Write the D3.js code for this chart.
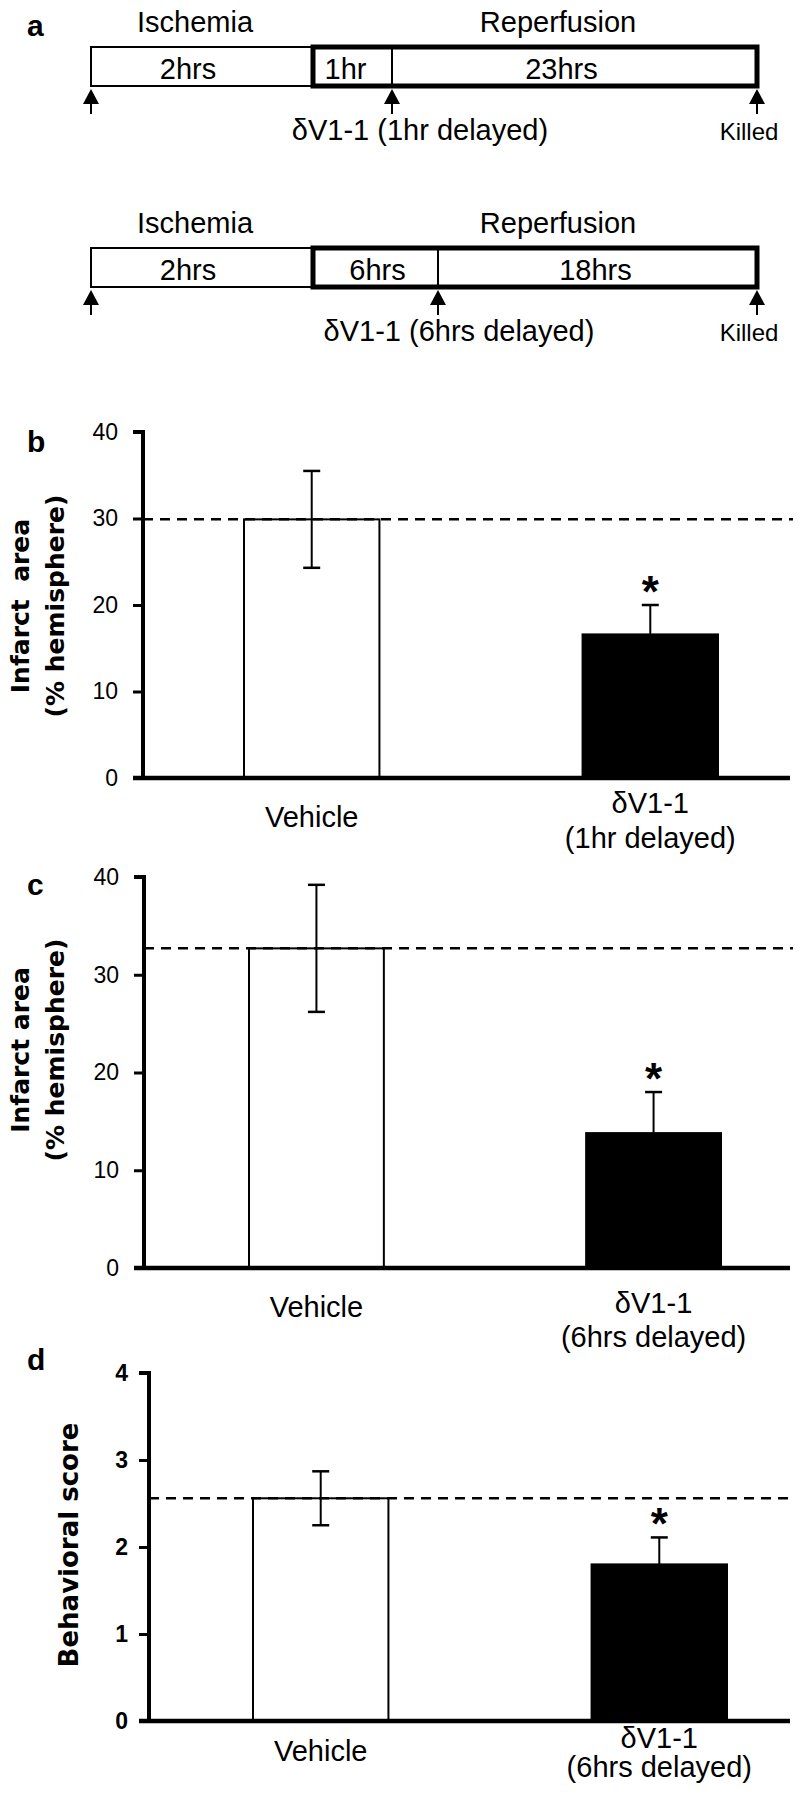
<!DOCTYPE html>
<html><head><meta charset="utf-8">
<script src="https://cdn.jsdelivr.net/npm/d3@7"></script>
<style>
body{margin:0;background:#fff;}
svg{display:block;}
.n{font-family:"Liberation Sans",Arial,Helvetica,sans-serif;}
.bd{font-family:"Liberation Sans",Arial,sans-serif;font-weight:bold;}
.ttl{font-family:"DejaVu Sans",Verdana,sans-serif;font-weight:bold;}
</style></head><body>
<svg id="chart" width="800" height="1800"></svg>
<script>
// ---------- data ----------
const phaseNames = ["Ischemia", "Reperfusion"];
const protocol1Hours = [2, 1, 23];
const protocol1Labels = ["2hrs", "1hr", "23hrs"];
const protocol1Drug = "δV1-1 (1hr delayed)";
const protocol2Hours = [2, 6, 18];
const protocol2Labels = ["2hrs", "6hrs", "18hrs"];
const protocol2Drug = "δV1-1 (6hrs delayed)";
const killedLabel = "Killed";

const groups = ["Vehicle", "δV1-1"];
const subB = "(1hr delayed)";
const subC = "(6hrs delayed)";
const subD = "(6hrs delayed)";
const meansB = [29.9, 16.6];
const errB = [5.6, 3.4];
const meansC = [32.7, 13.8];
const errC = [6.5, 4.2];
const meansD = [2.56, 1.80];
const errD = [0.31, 0.31];
const infarctTicks = [0, 10, 20, 30, 40];
const scoreTicks = [0, 1, 2, 3, 4];
const panelLetters = ["a", "b", "c", "d"];

// ---------- drawing ----------
const svg = d3.select("#chart");
const FS = 29;

function txt(g, x, y, s, size, cls) {
  return g.append("text").attr("class", cls || "n").attr("x", x).attr("y", y)
    .attr("text-anchor", "middle").attr("font-size", size).text(s);
}

function timeline(hours, labels, drug, top, xr, o) {
  const b = [0, hours[0], hours[0] + hours[1], hours[0] + hours[1] + hours[2]];
  const x = d3.scaleLinear().domain(b).range(xr);
  const g = svg.append("g");
  const h = 39;
  txt(g, (x(b[0]) + x(b[1])) / 2 - 7, top - 15, phaseNames[0], FS);
  txt(g, (x(b[1]) + x(b[3])) / 2 + 23, top - 15, phaseNames[1], FS);
  g.append("rect").attr("x", x(b[0])).attr("y", top).attr("width", x(b[1]) - x(b[0])).attr("height", h)
    .attr("fill", "none").attr("stroke", "#000").attr("stroke-width", 2);
  g.append("rect").attr("x", x(b[1])).attr("y", top).attr("width", x(b[3]) - x(b[1])).attr("height", h)
    .attr("fill", "none").attr("stroke", "#000").attr("stroke-width", 5);
  g.append("line").attr("x1", x(b[2])).attr("x2", x(b[2])).attr("y1", top).attr("y2", top + h)
    .attr("stroke", "#000").attr("stroke-width", 2);
  labels.forEach((l, i) => txt(g, (x(b[i]) + x(b[i + 1])) / 2 + o.shift[i], top + 32, l, FS));
  [b[0], b[2], b[3]].forEach(t => {
    const cx = x(t), ty = top + h + 3;
    g.append("path").attr("d", `M${cx},${ty} L${cx - 8},${ty + 15} L${cx + 8},${ty + 15} Z`).attr("fill", "#000");
    g.append("line").attr("x1", cx).attr("x2", cx).attr("y1", ty + 14).attr("y2", ty + 25)
      .attr("stroke", "#000").attr("stroke-width", 2);
  });
  txt(g, x(b[2]) + o.drugShift, top + 93, drug, FS);
  txt(g, x(b[3]) - 8, top + 93, killedLabel, 24);
}

timeline(protocol1Hours, protocol1Labels, protocol1Drug, 47, [91, 313, 392, 757], { shift: [-14, -7, -13], drugShift: 28 });
timeline(protocol2Hours, protocol2Labels, protocol2Drug, 248, [91, 313, 438, 757], { shift: [-14, 2, -2], drugShift: 21 });
svg.append("text").attr("class", "bd").attr("x", 27).attr("y", 36).attr("font-size", 30).text(panelLetters[0]);

function barPanel(opt) {
  const g = svg.append("g");
  const top = opt.ticks[opt.ticks.length - 1];
  const y = d3.scaleLinear().domain([0, top]).range([opt.y0, opt.yTop]);
  const x = d3.scaleBand().domain(groups).range(opt.xr).paddingInner(0.6).paddingOuter(0);
  g.selectAll("rect.bar").data(groups).enter().append("rect")
    .attr("x", d => x(d)).attr("width", x.bandwidth())
    .attr("y", (d, i) => y(opt.means[i])).attr("height", (d, i) => y(0) - y(opt.means[i]))
    .attr("fill", (d, i) => i === 0 ? "#fff" : "#000").attr("stroke", "#000").attr("stroke-width", 2);
  g.append("line").attr("x1", opt.ax).attr("x2", 793).attr("y1", y(opt.means[0])).attr("y2", y(opt.means[0]))
    .attr("stroke", "#000").attr("stroke-width", 2.5).attr("stroke-dasharray", "10,7");
  groups.forEach((d, i) => {
    const cx = x(d) + x.bandwidth() / 2;
    const hi = y(opt.means[i] + opt.err[i]), lo = y(opt.means[i] - opt.err[i]);
    g.append("line").attr("x1", cx).attr("x2", cx).attr("y1", hi).attr("y2", lo).attr("stroke", "#000").attr("stroke-width", 2);
    [hi, lo].forEach(v => g.append("line").attr("x1", cx - 8.5).attr("x2", cx + 8.5).attr("y1", v).attr("y2", v)
      .attr("stroke", "#000").attr("stroke-width", 2.5));
    if (i === 1) {
      g.append("text").attr("class", "bd").attr("x", cx).attr("y", hi + 2).attr("text-anchor", "middle")
        .attr("font-size", 44).text("*");
    }
  });
  const ya = d3.axisLeft(y).tickValues(opt.ticks).tickFormat(d3.format("d")).tickSize(10).tickPadding(opt.pad);
  const ag = g.append("g").attr("transform", `translate(${opt.ax},0)`).call(ya);
  ag.attr("font-family", null).attr("font-size", null);
  ag.select(".domain").attr("stroke-width", 4).attr("d", `M-10,${opt.yTop}H0V${opt.y0}`);
  ag.selectAll(".tick line").attr("stroke-width", 3);
  ag.selectAll(".tick text").attr("class", opt.tickBold ? "bd" : "n").attr("font-size", 23).attr("fill", "#000");
  g.append("line").attr("x1", opt.ax - 10).attr("x2", 790).attr("y1", opt.y0).attr("y2", opt.y0)
    .attr("stroke", "#000").attr("stroke-width", 4.5);
  groups.forEach((d, i) => {
    const cx = x(d) + x.bandwidth() / 2;
    if (i === 0) {
      txt(g, cx, opt.y0 + opt.lab[0], d, FS);
    } else {
      txt(g, cx, opt.y0 + opt.lab[1], d, FS);
      txt(g, cx, opt.y0 + opt.lab[2], opt.sub, FS);
    }
  });
  opt.titles.forEach((t, k) => {
    g.append("text").attr("class", "ttl")
      .attr("transform", `translate(${opt.titleX[k]},${opt.titleY}) rotate(-90)`)
      .attr("text-anchor", "middle").attr("font-size", opt.titleFS).attr("xml:space", "preserve").text(t);
  });
  svg.append("text").attr("class", "bd").attr("x", 27).attr("y", opt.letterY).attr("font-size", 30).text(opt.letter);
}

barPanel({ means: meansB, err: errB, ticks: infarctTicks, ax: 143, y0: 778, yTop: 432, xr: [244, 718], pad: 15,
  lab: [49, 35, 70], sub: subB, titles: ["Infarct  area", "(% hemisphere)"], titleX: [29, 64], titleY: 606, titleFS: 25,
  letter: panelLetters[1], letterY: 452 });
barPanel({ means: meansC, err: errC, ticks: infarctTicks, ax: 144, y0: 1268, yTop: 877, xr: [249, 721], pad: 15,
  lab: [49, 45, 79], sub: subC, titles: ["Infarct area", "(% hemisphere)"], titleX: [29, 64], titleY: 1050, titleFS: 25,
  letter: panelLetters[2], letterY: 895 });
barPanel({ means: meansD, err: errD, ticks: scoreTicks, ax: 149, y0: 1721, yTop: 1373, xr: [253, 727], pad: 11, tickBold: true,
  lab: [40, 27, 56], sub: subD, titles: ["Behavioral score"], titleX: [78], titleY: 1545, titleFS: 26,
  letter: panelLetters[3], letterY: 1370 });
</script></body></html>
